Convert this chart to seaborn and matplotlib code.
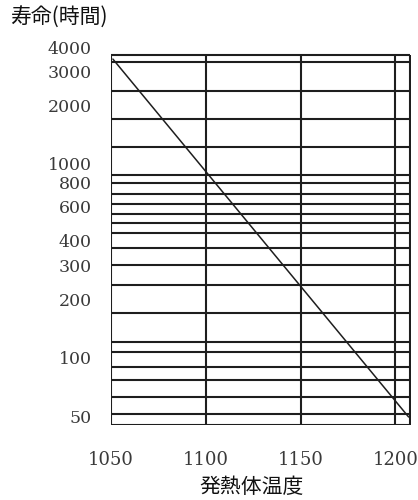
import numpy as np
import pandas as pd
import seaborn as sns
import matplotlib.pyplot as plt
from matplotlib.ticker import NullLocator

# diagonal life line
temp = [1051, 1207]
life_hours = [3466, 49.5]

# printed tick labels
y_tick_values = [50, 100, 200, 300, 400, 600, 800, 1000, 2000, 3000, 4000]
x_tick_values = [1050, 1100, 1150, 1200]

# grid lines of the scanned chart
h_grid = [3640, 3350, 2370, 1700, 1220, 875, 795, 700, 620, 550, 495,
          440, 368, 300, 237, 170, 121, 107, 90, 77, 63, 51, 45]
v_grid = [1050, 1100, 1150, 1200, 1208]

LINE_COLOR = "#1e1e1e"
TEXT_COLOR = "#3a3a3a"


def main() -> None:
    sns.set_theme(style="white")
    plt.rcParams["font.family"] = ["Noto Sans CJK JP", "DejaVu Sans"]

    fig = plt.figure(figsize=(4.18, 5.0), dpi=100)
    ax = fig.add_axes([111 / 418, 75 / 500, (410.5 - 111) / 418, 385 / 500])
    ax.set_yscale("log")
    ax.set_xlim(1050, 1208)
    ax.set_ylim(45, 4347)

    ax.hlines(h_grid, 1050, 1208, color=LINE_COLOR, linewidth=1.5)
    ax.vlines(v_grid, 45, 3640, color=LINE_COLOR, linewidth=1.5)

    df = pd.DataFrame({"temp": temp, "life": life_hours})
    sns.lineplot(data=df, x="temp", y="life", color=LINE_COLOR, linewidth=1.1, ax=ax)

    for side in ax.spines.values():
        side.set_visible(False)

    ax.yaxis.set_minor_locator(NullLocator())
    ax.set_yticks(y_tick_values)
    ax.set_yticklabels([str(v) for v in y_tick_values],
                       family=["DejaVu Serif"], fontsize=12.5, color=TEXT_COLOR)
    ax.set_xticks(x_tick_values)
    ax.set_xticklabels([str(v) for v in x_tick_values],
                       family=["DejaVu Serif"], fontsize=13, color=TEXT_COLOR)
    ax.tick_params(axis="y", length=0, pad=14)
    ax.tick_params(axis="x", length=0, pad=19)
    ax.set_xlabel("")
    ax.set_ylabel("")

    fig.text(10 / 418, 1 - 18 / 500, "寿命(時間)", fontsize=15,
             ha="left", va="center", color="#111111")
    fig.text(252 / 418, 1 - 487 / 500, "発熱体温度", fontsize=15,
             ha="center", va="center", color="#111111")

    fig.savefig("out.png", dpi=100, facecolor="white")
    plt.close(fig)


if __name__ == "__main__":
    main()
